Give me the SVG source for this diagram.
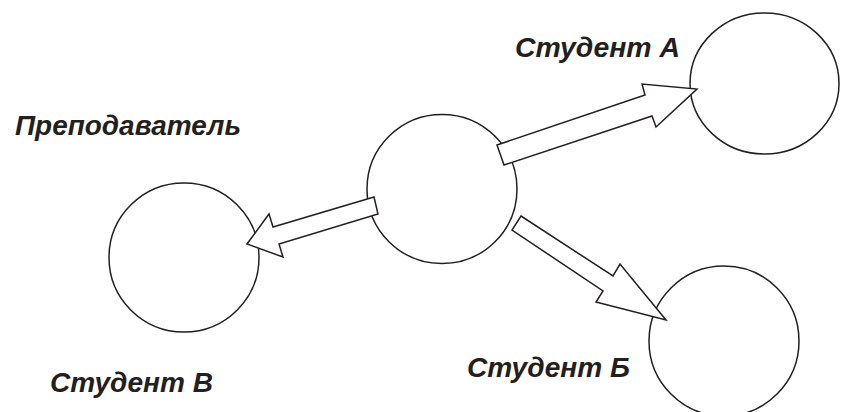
<svg xmlns="http://www.w3.org/2000/svg" width="843" height="412" viewBox="0 0 843 412">
<style>
.node{fill:#ffffff;stroke:#231f20;stroke-width:1.5}
.arrow{fill:#ffffff;stroke:#231f20;stroke-width:1.5;stroke-linejoin:miter}
.lbl{font-family:"Liberation Sans",Arial,sans-serif;font-weight:bold;font-style:italic;font-size:28px;fill:#231f20}
</style>
<rect width="843" height="412" fill="#ffffff"/>
<g id="teacher">
<ellipse class="node" cx="442" cy="189" rx="75" ry="74.5"/>
<text class="lbl" x="15" y="135" textLength="226" lengthAdjust="spacingAndGlyphs">Преподаватель</text>
</g>
<g id="studentA">
<ellipse class="node" cx="764.5" cy="83.5" rx="74.5" ry="70.5"/>
<text class="lbl" x="515" y="57" textLength="165" lengthAdjust="spacingAndGlyphs">Студент А</text>
</g>
<g id="studentB">
<ellipse class="node" cx="724" cy="341" rx="75" ry="75"/>
<text class="lbl" x="467" y="377" textLength="163" lengthAdjust="spacingAndGlyphs">Студент Б</text>
</g>
<g id="studentV">
<ellipse class="node" cx="184" cy="257.5" rx="75" ry="74.5"/>
<text class="lbl" x="50" y="392" textLength="163" lengthAdjust="spacingAndGlyphs">Студент В</text>
</g>
<g id="connectors">
<polygon class="arrow" points="497,145 645,95 642,84 697,89 656,127 652,116 504,165"/>
<polygon class="arrow" points="374,197 378,214 279,244 283,257 247,244 269,214 273,227"/>
<polygon class="arrow" points="521,216 613,276 620,264 666,320 596,302 603,291 512,230"/>
</g>
</svg>
